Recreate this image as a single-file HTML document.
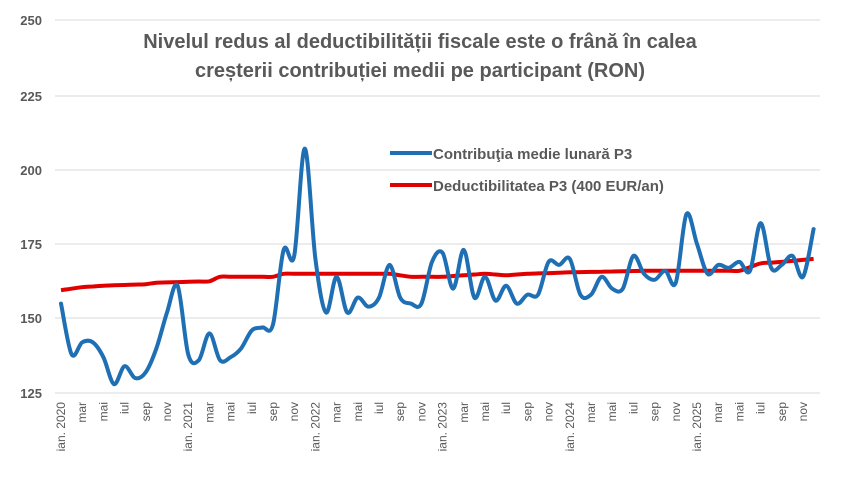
<!DOCTYPE html>
<html><head><meta charset="utf-8"><style>
html,body{margin:0;padding:0;background:#fff;width:841px;height:495px;overflow:hidden}
svg{display:block}
text{font-family:"Liberation Sans",sans-serif}
</style></head><body>
<svg id="s" width="841" height="495" xmlns="http://www.w3.org/2000/svg">
<g stroke="#d9d9d9" stroke-width="1">
<line x1="55" x2="820" y1="20" y2="20"/><line x1="55" x2="820" y1="96" y2="96"/>
<line x1="55" x2="820" y1="170" y2="170"/><line x1="55" x2="820" y1="244" y2="244"/>
<line x1="55" x2="820" y1="318" y2="318"/><line x1="55" x2="820" y1="393" y2="393"/>
</g>
<g font-size="13" font-weight="bold" fill="#595959" text-anchor="end">
<text x="42" y="25">250</text><text x="42" y="101">225</text><text x="42" y="175">200</text>
<text x="42" y="249">175</text><text x="42" y="323">150</text><text x="42" y="398">125</text>
</g>
<g font-size="20" font-weight="bold" fill="#595959" text-anchor="middle">
<text x="420" y="48">Nivelul redus al deductibilității fiscale este o frână în calea</text>
<text x="420" y="77">creșterii contribuției medii pe participant (RON)</text>
</g>
<g id="xl" font-size="12" fill="#595959"></g>
<path id="red" fill="none" stroke="#e00000" stroke-width="4" stroke-linejoin="round"/>
<path id="blue" fill="none" stroke="#1f6fb4" stroke-width="4" stroke-linejoin="round" stroke-linecap="round"/>
<line x1="390" x2="432" y1="153" y2="153" stroke="#1f6fb4" stroke-width="4"/>
<line x1="390" x2="432" y1="185" y2="185" stroke="#e00000" stroke-width="4"/>
<g font-size="15" font-weight="bold" fill="#595959">
<text x="433" y="159">Contribuţia medie lunară P3</text>
<text x="433" y="191">Deductibilitatea P3 (400 EUR/an)</text>
</g>
</svg>
<script>
var b=[155,138,142,142,137,128,134,130,132,140,152,161,138,136,145,136,137,140,146,147,148,173,171,207,170,152,164,152,157,154,157,168,157,155,155,169,172,160,173,157,164,156,161,155,158,158,169,168,170,158,158,164,160,160,171,165,163,166,162,185,175,165,168,167,169,166,182,167,168,171,164,180];
var rk=[[0,159.5],[2,160.5],[4,161],[8,161.5],[9,162],[14,162.5],[15,164],[20,164],[21,165],[31,165],[33,164],[36,164],[40,165],[42,164.5],[44,165],[48,165.5],[55,166],[64,166],[66,168.5],[68,169],[71,170]];
function X(i){return 61+i*10.6}
function Y(v){return 393-(v-125)*2.98}
function smooth(p){var d="M"+p[0][0]+","+p[0][1];for(var i=0;i<p.length-1;i++){var p0=p[i-1]||p[i],p1=p[i],p2=p[i+1],p3=p[i+2]||p2;
var c1x=p1[0]+(p2[0]-p0[0])/6,c1y=p1[1]+(p2[1]-p0[1])/6,c2x=p2[0]-(p3[0]-p1[0])/6,c2y=p2[1]-(p3[1]-p1[1])/6;
d+=" C"+c1x.toFixed(1)+","+c1y.toFixed(1)+" "+c2x.toFixed(1)+","+c2y.toFixed(1)+" "+p2[0].toFixed(1)+","+p2[1].toFixed(1);}return d}
document.getElementById("blue").setAttribute("d",smooth(b.map(function(v,i){return[X(i),Y(v)]})));
var r=[];for(var i=0;i<72;i++){for(var k=0;k<rk.length-1;k++){if(i>=rk[k][0]&&i<=rk[k+1][0]){var t=(i-rk[k][0])/(rk[k+1][0]-rk[k][0]);r.push(rk[k][1]+t*(rk[k+1][1]-rk[k][1]));break;}}}
document.getElementById("red").setAttribute("d",smooth(r.map(function(v,i){return[X(i),Y(v)]})));
var m=["ian. ","mar","mai","iul","sep","nov"],g=document.getElementById("xl"),s="";
for(var i=0;i<72;i+=2){var yr=2020+Math.floor(i/12),mi=(i%12)/2;var lab=mi==0?"ian. "+yr:m[mi];var x=X(i)+4;
s+='<text transform="translate('+x.toFixed(1)+',402) rotate(-90)" text-anchor="end">'+lab+'</text>';}
g.innerHTML=s;
</script>
</body></html>
